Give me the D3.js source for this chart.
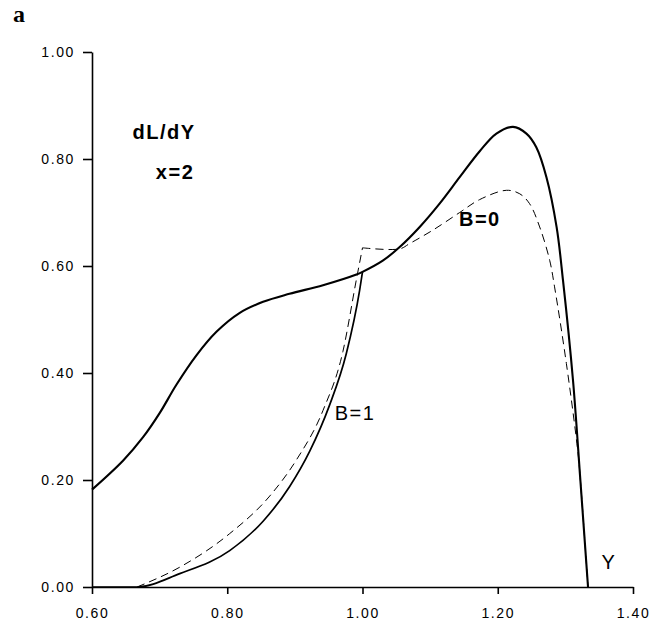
<!DOCTYPE html>
<html>
<head>
<meta charset="utf-8">
<script src="https://cdn.jsdelivr.net/npm/d3@7"></script>
<style>
  body { margin: 0; background: #fff; }
  svg { display: block; }
  .axis path, .axis line { stroke: #000; stroke-width: 1.6; }
  .axis text { font-family: "Liberation Sans", Arial, sans-serif; font-size: 14px; letter-spacing: 1.6px; fill: #000; }
  .lbl { font-family: "Liberation Sans", Arial, sans-serif; fill: #000; }
</style>
</head>
<body>
<div id="chart"></div>
<script>
// tick values
var xTicks = [0.60, 0.80, 1.00, 1.20, 1.40];
var yTicks = [0.00, 0.20, 0.40, 0.60, 0.80, 1.00];

// B=0, solid (upper curve)
var b0SolidX = [0.60, 0.6458, 0.6755, 0.700, 0.7248, 0.7544, 0.784, 0.818, 0.853, 0.892, 0.9416, 0.991, 1.00, 1.03, 1.055, 1.0846, 1.114, 1.1437, 1.173, 1.198, 1.2226, 1.2424, 1.257, 1.272, 1.287, 1.2965, 1.3113, 1.3222, 1.3335];
var b0SolidY = [0.182, 0.236, 0.280, 0.325, 0.378, 0.433, 0.477, 0.512, 0.533, 0.548, 0.564, 0.584, 0.589, 0.610, 0.6355, 0.673, 0.7166, 0.766, 0.814, 0.8475, 0.860, 0.8475, 0.822, 0.766, 0.673, 0.573, 0.386, 0.199, 0];

// B=1, solid (lower curve, joins at Y=1)
var b1SolidX = [0.60, 0.6667, 0.7297, 0.8036, 0.853, 0.8923, 0.922, 0.9513, 0.976, 0.9958, 1.00];
var b1SolidY = [0, 0, 0.025, 0.068, 0.123, 0.188, 0.254, 0.340, 0.436, 0.555, 0.589];

// dashed, lower part
var b1DashX = [0.6667, 0.7297, 0.8036, 0.8628, 0.902, 0.9416, 0.971, 0.991, 1.00];
var b1DashY = [0, 0.037, 0.0998, 0.170, 0.237, 0.330, 0.440, 0.575, 0.634];

// dashed, upper part
var b0DashX = [1.00, 1.055, 1.0698, 1.104, 1.1437, 1.173, 1.2128, 1.2325, 1.247, 1.262, 1.2768, 1.284, 1.3015, 1.3187, 1.3225, 1.3335];
var b0DashY = [0.634, 0.632, 0.642, 0.667, 0.700, 0.724, 0.7415, 0.735, 0.7166, 0.673, 0.6106, 0.561, 0.4176, 0.250, 0.195, 0];

var margin = {top: 52, right: 34, bottom: 37, left: 92};
var W = 667, H = 624;
var width = W - margin.left - margin.right,
    height = H - margin.top - margin.bottom;

var svg = d3.select("#chart").append("svg")
    .attr("width", W)
    .attr("height", H);

svg.append("text")
    .attr("x", 13).attr("y", 22)
    .style("font-family", "'Liberation Serif', 'Times New Roman', serif")
    .style("font-weight", "bold")
    .style("font-size", "24px")
    .text("a");

var g = svg.append("g")
    .attr("transform", "translate(" + margin.left + "," + margin.top + ")");

var x = d3.scaleLinear().domain([0.6, 1.4]).range([0, width]);
var y = d3.scaleLinear().domain([0, 1]).range([height, 0]);

g.append("g")
    .attr("class", "axis")
    .attr("transform", "translate(0," + height + ")")
    .call(d3.axisBottom(x).tickValues(xTicks).tickFormat(d3.format(".2f"))
        .tickSize(7).tickSizeOuter(0).tickPadding(14));

g.append("g")
    .attr("class", "axis")
    .call(d3.axisLeft(y).tickValues(yTicks).tickFormat(d3.format(".2f"))
        .tickSize(9).tickSizeOuter(0).tickPadding(8));

function pts(xs, ys) {
    return xs.map(function(d, i) { return [d, ys[i]]; });
}

var smooth = d3.line()
    .x(function(d) { return x(d[0]); })
    .y(function(d) { return y(d[1]); })
    .curve(d3.curveCatmullRom.alpha(0.5));

// monotone for the curves that start flat on the axis (no dip below zero)
var mono = d3.line()
    .x(function(d) { return x(d[0]); })
    .y(function(d) { return y(d[1]); })
    .curve(d3.curveMonotoneX);

g.append("path")
    .datum(pts(b1DashX, b1DashY))
    .attr("d", mono)
    .attr("fill", "none").attr("stroke", "#000")
    .attr("stroke-width", 1).attr("stroke-dasharray", "8,5");

g.append("path")
    .datum(pts(b0DashX, b0DashY))
    .attr("d", smooth)
    .attr("fill", "none").attr("stroke", "#000")
    .attr("stroke-width", 1).attr("stroke-dasharray", "8,5");

g.append("path")
    .datum(pts(b1SolidX, b1SolidY))
    .attr("d", mono)
    .attr("fill", "none").attr("stroke", "#000")
    .attr("stroke-width", 1.7);

g.append("path")
    .datum(pts(b0SolidX, b0SolidY))
    .attr("d", smooth)
    .attr("fill", "none").attr("stroke", "#000")
    .attr("stroke-width", 2.1);

// labels
var labels = [
    {t: "dL/dY", x: 0.660, y: 0.837, bold: true},
    {t: "x=2", x: 0.6944, y: 0.763, bold: true},
    {t: "B=0", x: 1.1427, y: 0.674, bold: true},
    {t: "B=1", x: 0.959, y: 0.313, bold: false},
    {t: "Y", x: 1.3533, y: 0.034, bold: false}
];

g.selectAll(".lbl")
    .data(labels)
    .enter().append("text")
    .attr("class", "lbl")
    .attr("x", function(d) { return x(d.x); })
    .attr("y", function(d) { return y(d.y); })
    .style("font-size", "20px")
    .style("font-weight", function(d) { return d.bold ? "bold" : "normal"; })
    .style("letter-spacing", "1.5px")
    .text(function(d) { return d.t; });
</script>
</body>
</html>
